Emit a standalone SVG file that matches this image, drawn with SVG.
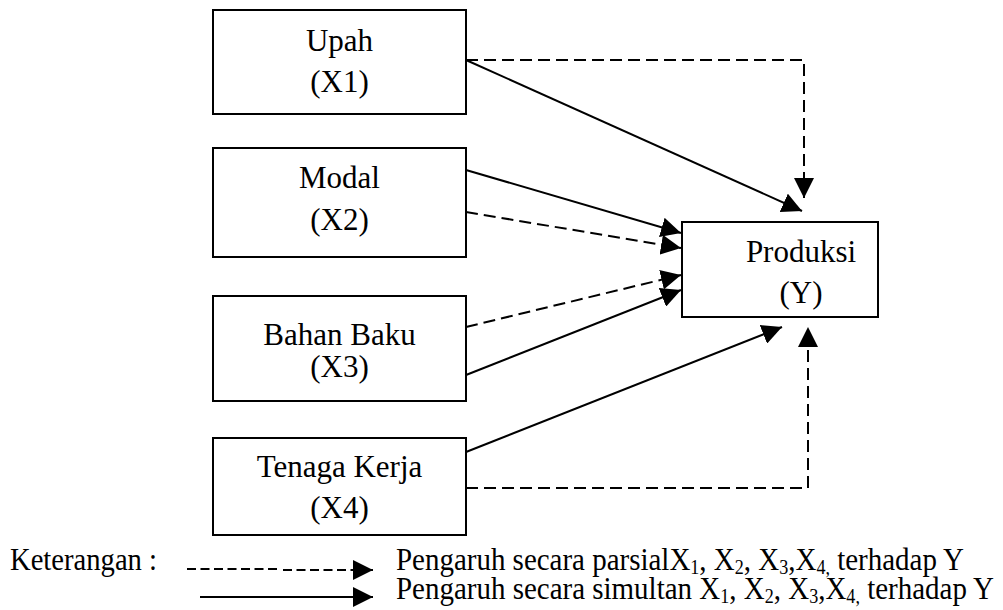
<svg xmlns="http://www.w3.org/2000/svg" width="1003" height="610" viewBox="0 0 1003 610">
  <style>
    .box { fill: #ffffff; stroke: #000000; stroke-width: 2; }
    .label { font-family: "Liberation Serif", "Times New Roman", serif; font-size: 31px; fill: #000000; text-anchor: middle; }
    .legend { font-family: "Liberation Serif", "Times New Roman", serif; font-size: 32px; fill: #000000; }
    .sub { font-size: 20px; }
    .solid { fill: none; stroke: #000000; stroke-width: 2; marker-end: url(#head); }
    .dash { fill: none; stroke: #000000; stroke-width: 2; stroke-dasharray: 12 6; marker-end: url(#head); }
    .dash-fine { fill: none; stroke: #000000; stroke-width: 2; stroke-dasharray: 9 4.5; }
  </style>
  <defs>
    <marker id="head" markerUnits="userSpaceOnUse" markerWidth="20" markerHeight="20" refX="20" refY="10" orient="auto" viewBox="0 0 20 20">
      <path d="M0,0 L20,10 L0,20 Z" fill="#000000" stroke="none"/>
    </marker>
  </defs>

  <rect width="1003" height="610" fill="#ffffff"/>

  <!-- connectors -->
  <g id="connectors">
    <path class="dash" d="M466,60 H804 V198"/>
    <path class="solid" d="M466,60 L802,211"/>
    <path class="solid" d="M466,170 L681,233"/>
    <path class="dash" d="M466,212 L681,248"/>
    <path class="dash" d="M466,327 L681,275"/>
    <path class="solid" d="M466,375 L681,290"/>
    <path class="solid" d="M466,452 L782,327"/>
    <path class="dash" d="M466,488 H808 V327"/>
  </g>

  <!-- independent variables -->
  <g id="node-upah">
    <rect class="box" x="213" y="10" width="253" height="104"/>
    <text class="label" x="339.5" y="51">Upah</text>
    <text class="label" x="339.5" y="92">(X1)</text>
  </g>
  <g id="node-modal">
    <rect class="box" x="213" y="148" width="253" height="109"/>
    <text class="label" x="339.5" y="188">Modal</text>
    <text class="label" x="339.5" y="230">(X2)</text>
  </g>
  <g id="node-bahan-baku">
    <rect class="box" x="213" y="296" width="253" height="105"/>
    <text class="label" x="339.5" y="345">Bahan Baku</text>
    <text class="label" x="339.5" y="377">(X3)</text>
  </g>
  <g id="node-tenaga-kerja">
    <rect class="box" x="213" y="438" width="253" height="97"/>
    <text class="label" x="339.5" y="477">Tenaga Kerja</text>
    <text class="label" x="339.5" y="518">(X4)</text>
  </g>

  <!-- dependent variable -->
  <g id="node-produksi">
    <rect class="box" x="682" y="222" width="196" height="95"/>
    <text class="label" x="801" y="262">Produksi</text>
    <text class="label" x="801" y="303">(Y)</text>
  </g>

  <!-- legend -->
  <g id="legend">
    <text class="legend" x="10" y="570" textLength="147" lengthAdjust="spacingAndGlyphs">Keterangan :</text>
    <path class="dash-fine" d="M187,569 H281"/>
    <path class="dash-fine" d="M283,570 H373" style="marker-end: url(#head)"/>
    <path class="solid" d="M200,597 H373"/>
    <text class="legend" x="396" y="570" textLength="568" lengthAdjust="spacingAndGlyphs">Pengaruh secara parsialX<tspan class="sub" dy="4">1</tspan><tspan dy="-4">, X</tspan><tspan class="sub" dy="4">2</tspan><tspan dy="-4">, X</tspan><tspan class="sub" dy="4">3</tspan><tspan dy="-4">,X</tspan><tspan class="sub" dy="4">4,</tspan><tspan dy="-4"> terhadap Y</tspan></text>
    <text class="legend" x="396" y="599" textLength="598" lengthAdjust="spacingAndGlyphs">Pengaruh secara simultan X<tspan class="sub" dy="4">1</tspan><tspan dy="-4">, X</tspan><tspan class="sub" dy="4">2</tspan><tspan dy="-4">, X</tspan><tspan class="sub" dy="4">3</tspan><tspan dy="-4">,X</tspan><tspan class="sub" dy="4">4,</tspan><tspan dy="-4"> terhadap Y</tspan></text>
  </g>
</svg>
